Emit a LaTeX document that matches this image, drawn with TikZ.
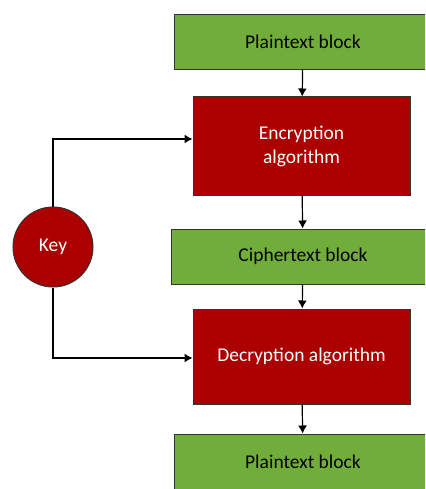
\documentclass[tikz,border=0pt]{standalone}
\usepackage{fontspec}
\setmainfont{Carlito}
\usetikzlibrary{arrows.meta}
\definecolor{blockgreen}{RGB}{112,173,58}
\definecolor{algred}{RGB}{172,0,0}
\tikzset{
  block/.style={draw=black!80, fill=blockgreen, line width=1pt, minimum width=258pt, minimum height=55pt, inner sep=0pt, font=\fontsize{19.5}{23}\selectfont},
  alg/.style={draw=black!80, fill=algred, text=white, line width=1pt, minimum width=217pt, inner sep=0pt, align=center, font=\fontsize{19.5}{24}\selectfont},
  keynode/.style={circle, draw=black!80, fill=algred, text=white, line width=1pt, minimum size=80pt, inner sep=0pt, font=\fontsize{19.5}{23}\selectfont},
  flow/.style={-{Latex[length=8pt,width=9pt]}, line width=1.2pt}
}
\begin{document}
\begin{tikzpicture}[x=1pt,y=1pt]
\useasboundingbox (0,0) rectangle (425,-489);
\clip (0,0) rectangle (425,-489);
\node[block] (p1) at (303,-42) {Plaintext block};
\node[alg, minimum height=98pt] (enc) at (301.5,-146) {Encryption\\algorithm};
\node[block, minimum width=264pt] (cip) at (303,-256.5) {Ciphertext block};
\node[alg, minimum height=95pt] (dec) at (301.5,-356.5) {Decryption algorithm};
\node[block] (p2) at (303,-461.5) {Plaintext block};
\node[keynode] (key) at (53,-247) {Key};

\draw [flow] (p1) edge (enc) (enc) edge (cip) (cip) edge (dec) (dec) edge (p2);
\draw [flow] (key.north) |- ([yshift=7pt]enc.west);
\draw [flow] (key.south) |- ([yshift=-1.5pt]dec.west);
\end{tikzpicture}
\end{document}
